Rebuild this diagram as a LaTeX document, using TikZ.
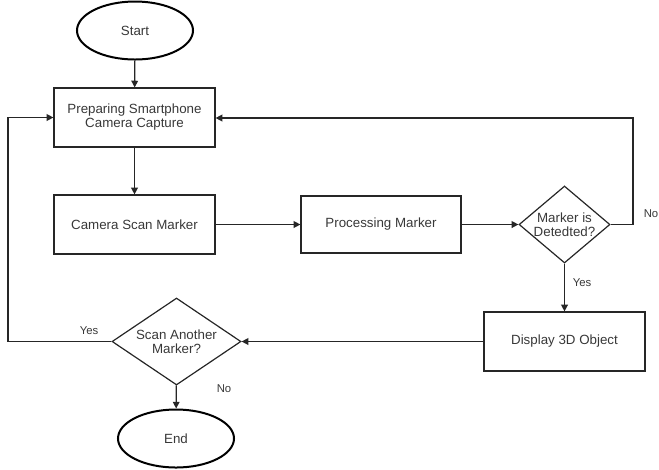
\documentclass[tikz,border=0pt]{standalone}
\usepackage{fontspec}
\setmainfont{Liberation Sans}
\usetikzlibrary{shapes.geometric,arrows.meta}
\begin{document}
\begin{tikzpicture}[x=0.75pt,y=-0.75pt,
  txt/.style={text=black!78, font=\fontsize{10}{10.5}\selectfont, align=center},
  procbox/.style={txt, draw=black!85, line width=0.9pt, rectangle, inner sep=0pt,
    minimum width=120.75pt, minimum height=44.25pt},
  terminal/.style={txt, draw=black, line width=1.5pt, ellipse, inner sep=0pt,
    minimum width=87pt, minimum height=43.5pt},
  decision/.style={draw=black!85, line width=0.9pt, diamond, inner sep=0pt},
  arr/.style={draw=black!85, line width=1pt, -{Triangle[length=5pt,width=5pt]}},
  lbl/.style={text=black!78, font=\fontsize{8.5}{10}\selectfont, inner sep=0pt}]
\useasboundingbox (0,0) rectangle (659,469);

\node[terminal] (start) at (135,30.5) {Start};
\node[procbox] (prep) at (134.5,117.5) {Preparing Smartphone\\Camera Capture};
\node[procbox] (scan) at (134.5,224.5) {Camera Scan Marker};
\node[procbox, minimum width=120pt, minimum height=42.75pt] (pm) at (381,224.5) {Processing Marker};
\node[decision, minimum width=68.25pt, minimum height=57.75pt,
  label={[txt]center:{Marker is\\Detedted?}}] (d1) at (564.5,224.5) {};
\node[procbox] (disp) at (564.5,341.5) {Display 3D Object};
\node[decision, minimum width=96.75pt, minimum height=65.25pt,
  label={[txt]center:{Scan Another\\Marker?}}] (d2) at (176.5,341.5) {};
\node[terminal] (end) at (176,438.5) {End};

\coordinate (nr) at (633,118);
\coordinate (yl) at (8,342);

\draw[arr] (start) -- (prep);
\draw[arr] (prep) -- (scan);
\draw[arr] (scan) -- (pm);
\draw[arr] (pm) -- (d1);
\draw[arr] (d1.east) -| (nr) -- (prep.east |- nr);
\draw[arr] (d1) -- (disp);
\draw[arr] (disp) -- (d2);
\draw[arr] (d2.west) -- (d2.west -| yl) |- (prep.west);
\draw[arr] (d2) -- (end);

\node[lbl] (no1) at (651,214) {No};
\node[lbl] (yes1) at (582,283) {Yes};
\node[lbl] (yes2) at (89,331) {Yes};
\node[lbl] (no2) at (224,389) {No};
\end{tikzpicture}
\end{document}
